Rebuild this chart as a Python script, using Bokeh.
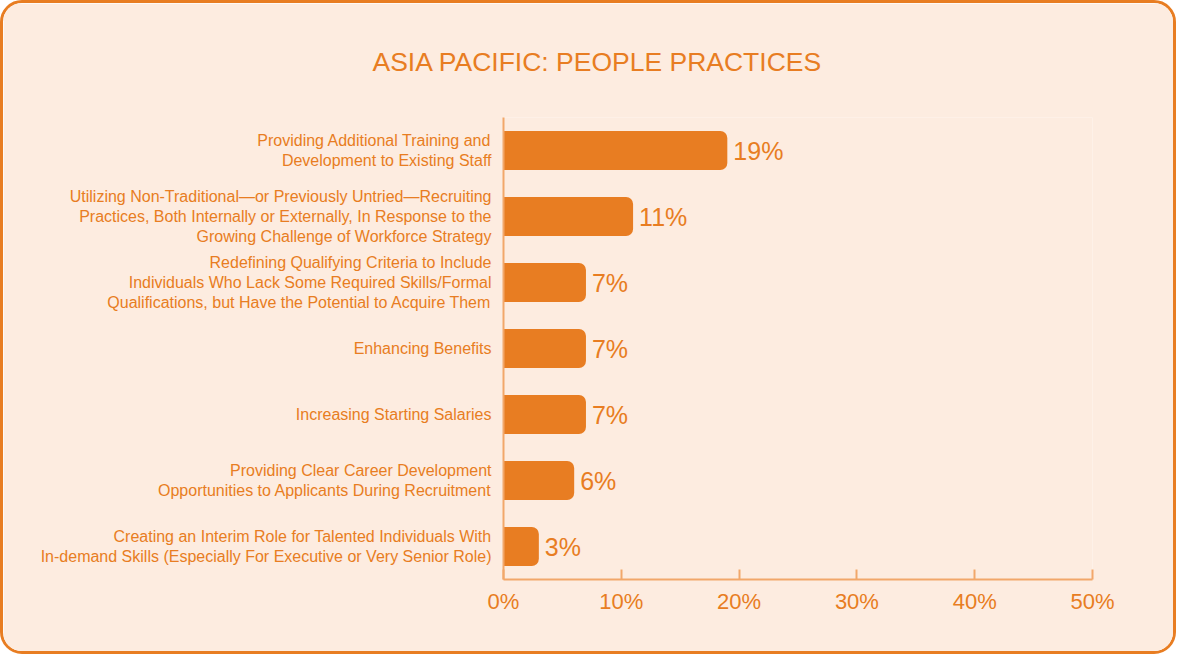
from bokeh.plotting import figure
from bokeh.models import ColumnDataSource, FixedTicker, Range1d, FactorRange
from bokeh.core.properties import value
from bokeh.embed import file_html
from bokeh.resources import INLINE

categories = [
    "Providing Additional Training and\nDevelopment to Existing Staff",
    "Utilizing Non-Traditional\u2014or Previously Untried\u2014Recruiting\nPractices, Both Internally or Externally, In Response to the\nGrowing Challenge of Workforce Strategy",
    "Redefining Qualifying Criteria to Include\nIndividuals Who Lack Some Required Skills/Formal\nQualifications, but Have the Potential to Acquire Them",
    "Enhancing Benefits",
    "Increasing Starting Salaries",
    "Providing Clear Career Development\nOpportunities to Applicants During Recruitment",
    "Creating an Interim Role for Talented Individuals With\nIn-demand Skills (Especially For Executive or Very Senior Role)",
]
values = [19, 11, 7, 7, 7, 6, 3]
labels = ["19%", "11%", "7%", "7%", "7%", "6%", "3%"]
x_ticks = [0, 10, 20, 30, 40, 50]
x_tick_labels = ["0%", "10%", "20%", "30%", "40%", "50%"]
title_text = "ASIA PACIFIC: PEOPLE PRACTICES"

ORANGE = "#E87D22"
LIGHT = "#F2A76A"
BG = "#FDECE0"
FONT = "Liberation Sans"

W, H = 1176, 654
ML, MR = 500, 87

source = ColumnDataSource(dict(cat=categories, val=values, lab=labels))

p = figure(
    width=W, height=H,
    y_range=FactorRange(factors=list(reversed(categories)), range_padding=0),
    x_range=Range1d(0, 50),
    output_backend="svg", toolbar_location=None,
    min_border_left=ML, min_border_right=MR, min_border_bottom=78, min_border_top=109,
    background_fill_color=BG, border_fill_color=BG,
)
p.styles = {"border": "3px solid " + ORANGE, "border-radius": "22px", "overflow": "hidden"}
p.outline_line_color = None
p.grid.visible = False

p.title.text = title_text
p.title.align = "left"
p.title.offset = -131
p.title.text_font = FONT
p.title.text_font_size = "26.5px"
p.title.text_font_style = "normal"
p.title.text_color = ORANGE
p.title.standoff = 82

p.hbar(y="cat", right="val", left=0, height=0.59, source=source,
       fill_color=ORANGE, line_color=None, border_radius=(0, 7, 7, 0))

p.text(x="val", y="cat", text="lab", source=source, x_offset=6,
       text_baseline="middle", text_align="left",
       text_font=value(FONT), text_font_size="25px", text_color=ORANGE)

xa = p.xaxis[0]
xa.ticker = FixedTicker(ticks=x_ticks)
xa.major_label_overrides = {t: l for t, l in zip(x_ticks, x_tick_labels)}
xa.major_tick_in = 10
xa.major_tick_out = 0
xa.minor_tick_in = 0
xa.minor_tick_out = 0
xa.axis_line_color = LIGHT
xa.axis_line_width = 2
xa.major_tick_line_color = LIGHT
xa.major_tick_line_width = 2
xa.major_label_text_font = FONT
xa.major_label_text_font_size = "22px"
xa.major_label_text_color = ORANGE
xa.major_label_standoff = 9

ya = p.yaxis[0]
ya.major_tick_in = 0
ya.major_tick_out = 0
ya.minor_tick_in = 0
ya.minor_tick_out = 0
ya.axis_line_color = LIGHT
ya.axis_line_width = 2
ya.major_label_text_font = FONT
ya.major_label_text_font_size = "16px"
ya.major_label_text_color = ORANGE
ya.major_label_standoff = 12

open("out.html", "w").write(file_html(p, INLINE))
